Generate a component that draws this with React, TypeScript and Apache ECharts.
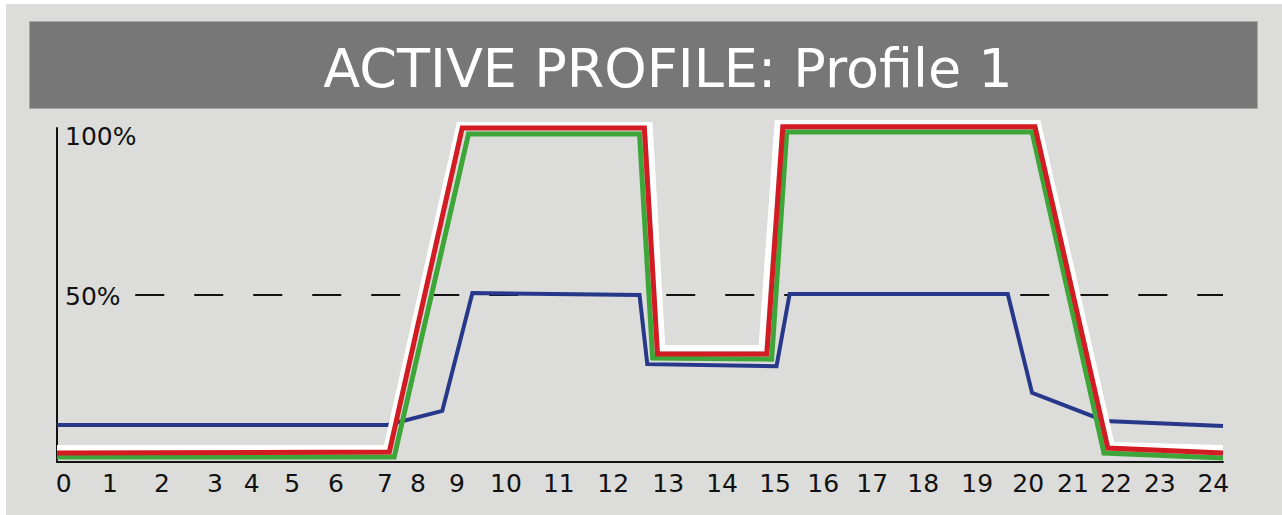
import React, { useEffect, useRef } from "react";
import * as echarts from "echarts";

const titleText = "ACTIVE PROFILE: Profile 1";

// hour-axis positions where the tick labels sit, and their texts
const xLabelPositions = [0.14, 1.09, 2.16, 3.25, 4.01, 4.84, 5.74, 6.75, 7.43, 8.23, 9.24, 10.33, 11.45, 12.58, 13.69, 14.78, 15.77, 16.78, 17.83, 18.94, 19.99, 20.91, 21.8, 22.7, 23.8];
const xLabels = ["0", "1", "2", "3", "4", "5", "6", "7", "8", "9", "10", "11", "12", "13", "14", "15", "16", "17", "18", "19", "20", "21", "22", "23", "24"];

const yLabelPositions = [49.7, 97.6];
const yLabels = ["50%", "100%"];

// series: [hour, percent]
const whiteLine = [[0, 4.2], [6.78, 4.2], [8.28, 100.9], [12.2, 100.9], [12.46, 34.1], [14.5, 34.1], [14.83, 101.5], [20.19, 101.5], [21.71, 5.1], [24, 4.2]];
const greenLine = [[0, 1.5], [6.94, 1.5], [8.47, 98.2], [11.99, 98.2], [12.26, 31.1], [14.71, 30.8], [15.02, 98.8], [20.07, 98.8], [21.55, 2.7], [24, 1.2]];
const redLine = [[0, 2.7], [6.84, 3.0], [8.34, 100], [12.09, 100], [12.36, 32.3], [14.61, 32.3], [14.94, 100.4], [20.13, 100.4], [21.63, 4.2], [24, 2.7]];
const blueLine = [[0, 11.1], [6.8, 11.1], [7.93, 15.3], [8.55, 50.6], [11.99, 50.0], [12.15, 29.3], [14.81, 28.7], [15.08, 50.3], [19.57, 50.3], [20.07, 20.7], [21.57, 12.3], [24, 10.8]];
const halfLine = [[1.61, 50], [24, 50]];

const FONT = "DejaVu Sans";

export default function App() {
  const ref = useRef<HTMLDivElement>(null);
  useEffect(() => {
    if (!ref.current) return;
    const chart = echarts.init(ref.current, undefined, { renderer: "svg" });
    const lineSeries = (name: string, data: number[][], color: string, width: number, z: number) => ({
      name,
      type: "line",
      data,
      z,
      clip: false,
      showSymbol: false,
      symbol: "none",
      lineStyle: { color, width, join: "miter", cap: "butt" },
      emphasis: { disabled: true },
      silent: true,
    });
    chart.setOption({
      animation: false,
      backgroundColor: "#ffffff",
      graphic: [
        { type: "rect", z: -10, shape: { x: 6, y: 4, width: 1276, height: 511 }, style: { fill: "#dcdcda" } },
        { type: "rect", z: -9, shape: { x: 29.5, y: 21.5, width: 1228, height: 87 }, style: { fill: "#777777", stroke: "#a8a8a8", lineWidth: 1 } },
        {
          type: "text",
          z: -8,
          x: 668,
          y: 68,
          style: { text: titleText, fill: "#ffffff", font: `54px "${FONT}"`, align: "center", verticalAlign: "middle" },
        },
      ],
      grid: { left: 57, right: 59, top: 128, bottom: 53, containLabel: false },
      xAxis: {
        type: "value",
        min: 0,
        max: 24,
        axisLine: { show: true, onZero: false, lineStyle: { color: "#111", width: 2 } },
        axisTick: { show: false },
        splitLine: { show: false },
        axisLabel: {
          customValues: xLabelPositions,
          formatter: (v: number) => {
            let best = 0;
            for (let i = 0; i < xLabelPositions.length; i++) {
              if (Math.abs(xLabelPositions[i] - v) < Math.abs(xLabelPositions[best] - v)) best = i;
            }
            return xLabels[best];
          },
          color: "#111",
          fontFamily: FONT,
          fontSize: 25,
          margin: 9,
        },
      },
      yAxis: {
        type: "value",
        min: 0,
        max: 100,
        axisLine: { show: true, lineStyle: { color: "#111", width: 2 } },
        axisTick: { show: false },
        splitLine: { show: false },
        axisLabel: {
          inside: true,
          customValues: yLabelPositions,
          formatter: (v: number) => {
            let best = 0;
            for (let i = 0; i < yLabelPositions.length; i++) {
              if (Math.abs(yLabelPositions[i] - v) < Math.abs(yLabelPositions[best] - v)) best = i;
            }
            return yLabels[best];
          },
          color: "#111",
          fontFamily: FONT,
          fontSize: 25,
          margin: 8,
        },
      },
      series: [
        {
          name: "50%",
          type: "line",
          data: halfLine,
          z: 1,
          showSymbol: false,
          symbol: "none",
          silent: true,
          lineStyle: { color: "#111", width: 2, type: [29, 30] },
        },
        lineSeries("blue", blueLine, "#27388a", 4, 2),
        lineSeries("white", whiteLine, "#ffffff", 6, 3),
        lineSeries("green", greenLine, "#3ea639", 5, 4),
        lineSeries("red", redLine, "#d21b22", 5, 5),
      ],
    });
    return () => chart.dispose();
  }, []);
  return <div ref={ref} style={{ position: "absolute", left: 0, top: 0, width: 1282, height: 515 }} />;
}
